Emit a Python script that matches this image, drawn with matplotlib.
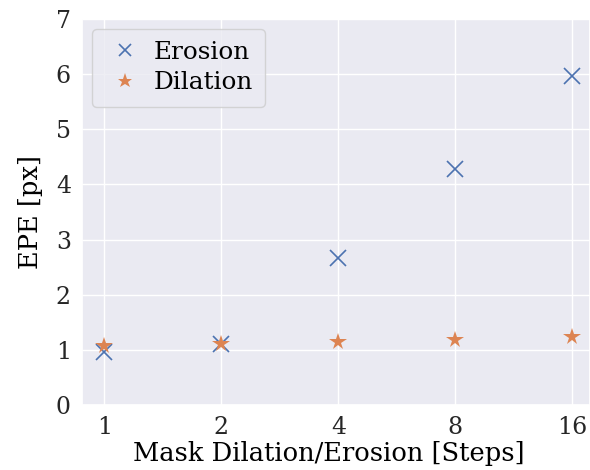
import matplotlib

matplotlib.use("Agg")
import matplotlib.pyplot as plt
import numpy as np
import seaborn as sns

steps = ["1", "2", "4", "8", "16"]
erosion_epe = [0.97, 1.11, 2.66, 4.27, 5.96]
dilation_epe = [1.08, 1.11, 1.14, 1.18, 1.24]

sns.set_theme(style="darkgrid")
plt.rcParams["font.family"] = ["DejaVu Serif"]
plt.rcParams["text.color"] = "black"
plt.rcParams["axes.labelcolor"] = "black"

fig = plt.figure(figsize=(5.9, 4.7), dpi=100)
ax = fig.add_axes([0.139, 0.138, 0.861, 0.822])

x = np.arange(len(steps))
pal = sns.color_palette("deep")
ax.plot(x, erosion_epe, ls="none", marker="x", ms=11, mew=1.2,
        color=pal[0], label="Erosion")
ax.plot(x, dilation_epe, ls="none", marker="*", ms=13, mew=0,
        color=pal[1], label="Dilation")

ax.set_xticks(x)
ax.set_xticklabels(steps)
ax.set_xlim(-0.19, 4.15)
ax.set_ylim(0, 7)
ax.tick_params(labelsize=17, pad=2)
ax.set_xlabel("Mask Dilation/Erosion [Steps]", fontsize=18.5)
ax.xaxis.set_label_coords(0.485, -0.092)
ax.set_ylabel("EPE [px]", fontsize=18.5, labelpad=9)
ax.legend(loc="upper left", fontsize=17.8, borderpad=0.5,
          handlelength=1.7, handletextpad=0.3, labelspacing=0.3,
          borderaxespad=0.4, markerscale=0.85)

fig.savefig("out.png", dpi=100)
